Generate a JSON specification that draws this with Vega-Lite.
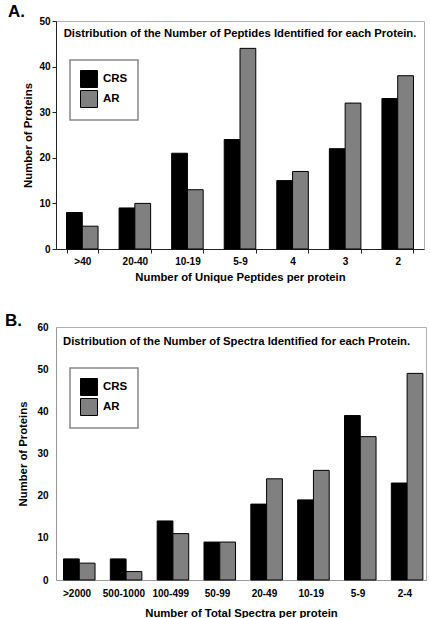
{
  "$schema": "https://vega.github.io/schema/vega-lite/v6.json",
  "padding": {"left": 4, "top": 2, "right": 0, "bottom": 0},
  "background": "white",
  "spacing": 28,
  "columns": 1,
  "align": "none",
  "config": {
    "font": "Liberation Sans",
    "view": {"stroke": "#b0b0b0", "strokeWidth": 1},
    "axis": {
      "labelFont": "Liberation Sans", "labelFontWeight": "bold", "labelFontSize": 10, "labelColor": "black",
      "titleFont": "Liberation Sans", "titleFontWeight": "bold", "titleFontSize": 11.3, "titleColor": "black",
      "grid": false
    },
    "legend": {
      "orient": "none", "title": null, "fillColor": "white", "strokeColor": "#888888", "strokeWidth": 1.5,
      "padding": 10, "symbolType": "square", "symbolSize": 289, "symbolStrokeColor": "black", "symbolStrokeWidth": 1,
      "symbolOpacity": 1, "labelFont": "Liberation Sans", "labelFontSize": 11.5, "labelFontWeight": "bold", "labelColor": "black",
      "rowPadding": -4, "labelOffset": 5
    },
    "title": {"font": "Liberation Sans", "fontWeight": "bold", "color": "black"}
  },
  "resolve": {"scale": {"color": "independent"}, "legend": {"color": "independent"}},
  "concat": [
    {
      "width": 368, "height": 228,
      "title": {"text": "A.", "fontSize": 17, "anchor": "start", "frame": "group", "dx": -48, "offset": -18, "baseline": "alphabetic"},
      "layer": [
        {
          "data": {"values": [
            {"range": ">40", "sample": "CRS", "count": 8}, {"range": ">40", "sample": "AR", "count": 5},
            {"range": "20-40", "sample": "CRS", "count": 9}, {"range": "20-40", "sample": "AR", "count": 10},
            {"range": "10-19", "sample": "CRS", "count": 21}, {"range": "10-19", "sample": "AR", "count": 13},
            {"range": "5-9", "sample": "CRS", "count": 24}, {"range": "5-9", "sample": "AR", "count": 44},
            {"range": "4", "sample": "CRS", "count": 15}, {"range": "4", "sample": "AR", "count": 17},
            {"range": "3", "sample": "CRS", "count": 22}, {"range": "3", "sample": "AR", "count": 32},
            {"range": "2", "sample": "CRS", "count": 33}, {"range": "2", "sample": "AR", "count": 38}
          ]},
          "mark": {"type": "bar", "stroke": "black", "strokeWidth": 1},
          "encoding": {
            "x": {"field": "range", "type": "nominal", "sort": null,
              "scale": {"domain": [">40", "20-40", "10-19", "5-9", "4", "3", "2"], "paddingInner": 0.4, "paddingOuter": 0.2},
              "axis": {"title": "Number of Unique Peptides per protein", "labelAngle": 0, "tickBand": "extent",
                "domainColor": "#222222", "tickColor": "#222222", "tickSize": 4, "labelPadding": 3, "titlePadding": 5}},
            "xOffset": {"field": "sample", "type": "nominal", "sort": ["CRS", "AR"], "scale": {"domain": ["CRS", "AR"], "paddingInner": 0, "paddingOuter": 0}},
            "y": {"field": "count", "type": "quantitative", "scale": {"domain": [0, 50], "nice": false},
              "axis": {"title": "Number of Proteins", "values": [0, 5, 10, 15, 20, 25, 30, 35, 40, 45, 50],
                "domainColor": "#222222", "tickColor": "#222222", "tickSize": 4, "labelPadding": 2, "titlePadding": 5}},
            "color": {"field": "sample", "type": "nominal", "sort": ["CRS", "AR"],
              "scale": {"domain": ["CRS", "AR"], "range": ["#000000", "#808080"]},
              "legend": {"legendX": 14, "legendY": 39}}
          }
        },
        {
          "data": {"values": [{"label": "Distribution of the Number of Peptides Identified for each Protein."}]},
          "mark": {"type": "text", "fontSize": 11.3, "fontWeight": "bold", "font": "Liberation Sans", "color": "black", "align": "center", "baseline": "middle"},
          "encoding": {
            "x": {"datum": "5-9"},
            "y": {"datum": 47.1},
            "text": {"field": "label"}
          }
        }
      ]
    },
    {
      "width": 370, "height": 253,
      "title": {"text": "B.", "fontSize": 17, "anchor": "start", "frame": "group", "dx": -51, "offset": -21, "baseline": "alphabetic"},
      "layer": [
        {
          "data": {"values": [
            {"range": ">2000", "sample": "CRS", "count": 5}, {"range": ">2000", "sample": "AR", "count": 4},
            {"range": "500-1000", "sample": "CRS", "count": 5}, {"range": "500-1000", "sample": "AR", "count": 2},
            {"range": "100-499", "sample": "CRS", "count": 14}, {"range": "100-499", "sample": "AR", "count": 11},
            {"range": "50-99", "sample": "CRS", "count": 9}, {"range": "50-99", "sample": "AR", "count": 9},
            {"range": "20-49", "sample": "CRS", "count": 18}, {"range": "20-49", "sample": "AR", "count": 24},
            {"range": "10-19", "sample": "CRS", "count": 19}, {"range": "10-19", "sample": "AR", "count": 26},
            {"range": "5-9", "sample": "CRS", "count": 39}, {"range": "5-9", "sample": "AR", "count": 34},
            {"range": "2-4", "sample": "CRS", "count": 23}, {"range": "2-4", "sample": "AR", "count": 49}
          ]},
          "mark": {"type": "bar", "stroke": "black", "strokeWidth": 1},
          "encoding": {
            "x": {"field": "range", "type": "nominal", "sort": null,
              "scale": {"domain": [">2000", "500-1000", "100-499", "50-99", "20-49", "10-19", "5-9", "2-4"], "paddingInner": 0.42, "paddingOuter": 0.16},
              "axis": {"title": "Number of Total Spectra per protein", "labelAngle": 0, "ticks": false,
                "domainColor": "#999999", "labelPadding": 8, "titlePadding": 9}},
            "xOffset": {"field": "sample", "type": "nominal", "sort": ["CRS", "AR"], "scale": {"domain": ["CRS", "AR"], "paddingInner": 0, "paddingOuter": 0}},
            "y": {"field": "count", "type": "quantitative", "scale": {"domain": [0, 60], "nice": false},
              "axis": {"title": "Number of Proteins", "values": [0, 10, 20, 30, 40, 50, 60], "ticks": false,
                "domainColor": "#999999", "labelPadding": 8, "titlePadding": 8}},
            "color": {"field": "sample", "type": "nominal", "sort": ["CRS", "AR"],
              "scale": {"domain": ["CRS", "AR"], "range": ["#000000", "#808080"]},
              "legend": {"legendX": 14, "legendY": 41}}
          }
        },
        {
          "data": {"values": [{"label": "Distribution of the Number of Spectra Identified for each Protein."}]},
          "mark": {"type": "text", "fontSize": 11.3, "fontWeight": "bold", "font": "Liberation Sans", "color": "black", "align": "center", "baseline": "middle", "dx": 19},
          "encoding": {
            "x": {"datum": "50-99"},
            "y": {"datum": 56.4},
            "text": {"field": "label"}
          }
        }
      ]
    }
  ]
}
